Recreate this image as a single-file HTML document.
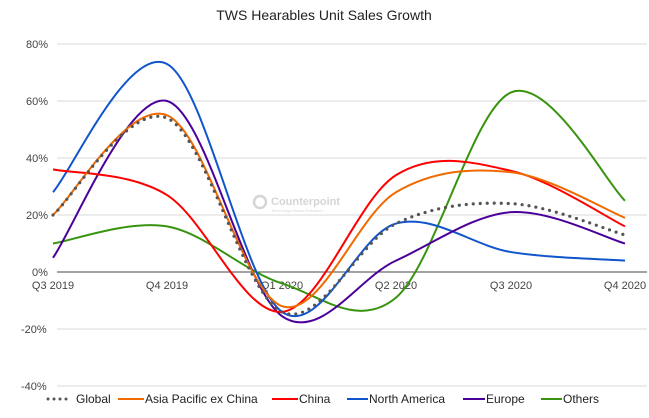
<!DOCTYPE html>
<html><head><meta charset="utf-8"><style>
html,body{margin:0;padding:0;background:#fff;}
svg{display:block;font-family:"Liberation Sans",Arial,sans-serif;}
</style></head><body>
<svg id="c" width="649" height="418" viewBox="0 0 649 418" xmlns="http://www.w3.org/2000/svg">
<text x="324" y="20" text-anchor="middle" font-size="14" fill="#222">TWS Hearables Unit Sales Growth</text>
<g stroke="#d9d9d9" stroke-width="1">
<line x1="57" x2="647" y1="44" y2="44"/><line x1="57" x2="647" y1="101" y2="101"/>
<line x1="57" x2="647" y1="158" y2="158"/><line x1="57" x2="647" y1="215" y2="215"/>
<line x1="57" x2="647" y1="329" y2="329"/><line x1="57" x2="647" y1="386" y2="386"/>
</g>
<line x1="57" x2="647" y1="272" y2="272" stroke="#444" stroke-width="1"/>
<g font-size="11" fill="#444">
<text x="26" y="48">80%</text>
<text x="26" y="105">60%</text>
<text x="26" y="162">40%</text>
<text x="26" y="219">20%</text>
<text x="32" y="276">0%</text>
<text x="21" y="333">-20%</text>
<text x="21" y="390">-40%</text>
</g>
<g font-size="11" fill="#444" text-anchor="middle">
<text x="53" y="289">Q3 2019</text><text x="167" y="289">Q4 2019</text>
<text x="282" y="289">Q1 2020</text><text x="396" y="289">Q2 2020</text>
<text x="511" y="289">Q3 2020</text><text x="625" y="289">Q4 2020</text>
</g>
<g opacity="0.35">
<circle cx="260" cy="202" r="6" fill="none" stroke="#888" stroke-width="2.5"/>
<text x="271" y="205" font-size="11" font-weight="bold" fill="#888">Counterpoint</text>
<text x="271" y="212" font-size="4" fill="#888">Technology Market Research</text>
</g>
<g id="lines" fill="none" stroke-width="2"></g>
<g font-size="12" fill="#222">
<line x1="48" x2="72" y1="399" y2="399" stroke="#555" stroke-width="3" stroke-dasharray="0,6" stroke-linecap="round"/>
<text x="76" y="403">Global</text>
<line x1="118" x2="144" y1="399" y2="399" stroke="#f06a00" stroke-width="2"/>
<text x="145" y="403">Asia Pacific ex China</text>
<line x1="272" x2="298" y1="399" y2="399" stroke="#ff0000" stroke-width="2"/>
<text x="299" y="403">China</text>
<line x1="347" x2="368" y1="399" y2="399" stroke="#1155cc" stroke-width="2"/>
<text x="369" y="403">North America</text>
<line x1="463" x2="485" y1="399" y2="399" stroke="#4a0099" stroke-width="2"/>
<text x="486" y="403">Europe</text>
<line x1="541" x2="562" y1="399" y2="399" stroke="#38940f" stroke-width="2"/>
<text x="563" y="403">Others</text>
</g>
</svg>
<script>
var X=[53,167,282,396,511,625];
function Y(v){return 272-v*57/20;}
var S=[
["#38940f",[10,16,-4,-9,63,25],""],
["#1155cc",[28,73,-14,17,7,4],""],
["#4a0099",[5,60,-15.5,4,21,10],""],
["#ff0000",[36,27,-14,34,35.5,16],""],
["#f06a00",[20,55,-12,28,35,19],""],
["#555",[20,54,-14,17,24,13],"dots"]
];
var g=document.getElementById("lines"),ns="http://www.w3.org/2000/svg";
S.forEach(function(s){
 var p=X.map(function(x,i){return [x,Y(s[1][i])];});
 var d="M"+p[0][0]+","+p[0][1];
 for(var i=0;i<p.length-1;i++){
  var p0=p[Math.max(i-1,0)],p1=p[i],p2=p[i+1],p3=p[Math.min(i+2,p.length-1)];
  var c1=[p1[0]+(p2[0]-p0[0])/6,p1[1]+(p2[1]-p0[1])/6];
  var c2=[p2[0]-(p3[0]-p1[0])/6,p2[1]-(p3[1]-p1[1])/6];
  d+=" C"+c1+" "+c2+" "+p2;
 }
 var e=document.createElementNS(ns,"path");
 e.setAttribute("d",d);e.setAttribute("stroke",s[0]);
 if(s[2]){e.setAttribute("stroke-width","3.2");e.setAttribute("stroke-dasharray","0,7");e.setAttribute("stroke-linecap","round");}
 g.appendChild(e);
});
</script>
</body></html>
